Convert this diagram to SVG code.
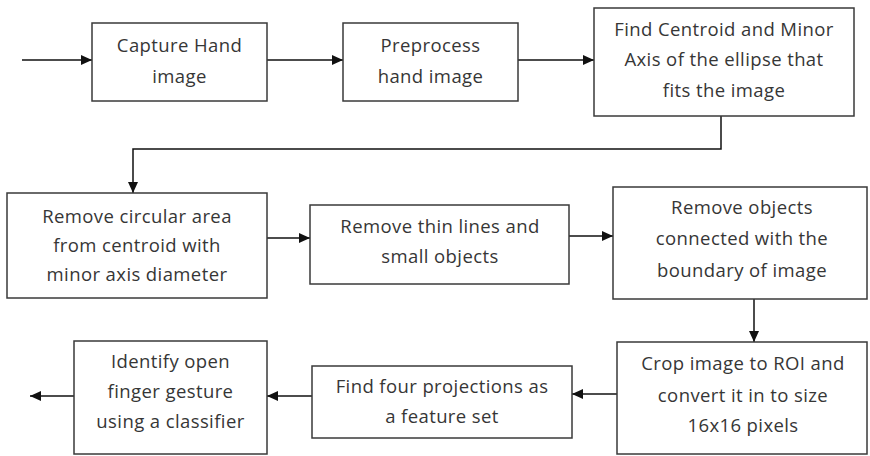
<svg xmlns="http://www.w3.org/2000/svg" width="870" height="456" viewBox="0 0 870 456">
  <style>
    .box { fill: #ffffff; stroke: #3a3a3a; stroke-width: 1.5; }
    .label { font-family: "Open Sans", "Noto Sans", "DejaVu Sans", sans-serif; font-size: 18.5px; fill: #363636; text-anchor: middle; letter-spacing: 0.4px; }
    .wire { fill: none; stroke: #111111; stroke-width: 1.5; }
  </style>
  <defs>
    <marker id="arrow" markerUnits="userSpaceOnUse" markerWidth="12" markerHeight="11" refX="11" refY="5.5" orient="auto">
      <path d="M0,0.5 L11,5.5 L0,10.5 Z" fill="#111111"/>
    </marker>
  </defs>
  <rect width="870" height="456" fill="#ffffff"/>

  <g id="connectors">
    <line class="wire" x1="22" y1="60" x2="92" y2="60" marker-end="url(#arrow)"/>
    <line class="wire" x1="267" y1="60" x2="343" y2="60" marker-end="url(#arrow)"/>
    <line class="wire" x1="518" y1="60" x2="594" y2="60" marker-end="url(#arrow)"/>
    <polyline class="wire" points="721,116 721,149 133,149 133,193" marker-end="url(#arrow)"/>
    <line class="wire" x1="267" y1="238" x2="310" y2="238" marker-end="url(#arrow)"/>
    <line class="wire" x1="569" y1="236" x2="613" y2="236" marker-end="url(#arrow)"/>
    <line class="wire" x1="754" y1="299" x2="754" y2="342" marker-end="url(#arrow)"/>
    <line class="wire" x1="617" y1="394" x2="572" y2="394" marker-end="url(#arrow)"/>
    <line class="wire" x1="312" y1="396" x2="267" y2="396" marker-end="url(#arrow)"/>
    <line class="wire" x1="74" y1="396" x2="30" y2="396" marker-end="url(#arrow)"/>
  </g>

  <g id="capture">
    <rect class="box" x="92" y="23" width="175" height="78"/>
    <text class="label" x="179.5" y="52">Capture Hand</text>
    <text class="label" x="179.5" y="83">image</text>
  </g>

  <g id="preprocess">
    <rect class="box" x="343" y="23" width="175" height="78"/>
    <text class="label" x="430.5" y="52">Preprocess</text>
    <text class="label" x="430.5" y="83">hand image</text>
  </g>

  <g id="centroid">
    <rect class="box" x="594" y="8" width="260" height="108"/>
    <text class="label" x="724" y="36">Find Centroid and Minor</text>
    <text class="label" x="724" y="66">Axis of the ellipse that</text>
    <text class="label" x="724" y="97">fits the image</text>
  </g>

  <g id="remove-circle">
    <rect class="box" x="7" y="193" width="260" height="105"/>
    <text class="label" x="137" y="223">Remove circular area</text>
    <text class="label" x="137" y="252">from centroid with</text>
    <text class="label" x="137" y="281">minor axis diameter</text>
  </g>

  <g id="remove-thin">
    <rect class="box" x="310" y="205" width="259" height="79"/>
    <text class="label" x="440" y="233">Remove thin lines and</text>
    <text class="label" x="440" y="263">small objects</text>
  </g>

  <g id="remove-boundary">
    <rect class="box" x="613" y="187" width="254" height="112"/>
    <text class="label" x="742" y="214">Remove objects</text>
    <text class="label" x="742" y="245">connected with the</text>
    <text class="label" x="742" y="277">boundary of image</text>
  </g>

  <g id="crop">
    <rect class="box" x="617" y="342" width="250" height="112"/>
    <text class="label" x="743" y="370">Crop image to ROI and</text>
    <text class="label" x="743" y="402">convert it in to size</text>
    <text class="label" x="743" y="432">16x16 pixels</text>
  </g>

  <g id="projections">
    <rect class="box" x="312" y="366" width="260" height="72"/>
    <text class="label" x="442" y="393">Find four projections as</text>
    <text class="label" x="442" y="423">a feature set</text>
  </g>

  <g id="classify">
    <rect class="box" x="74" y="341" width="193" height="113"/>
    <text class="label" x="170.5" y="368">Identify open</text>
    <text class="label" x="170.5" y="398">finger gesture</text>
    <text class="label" x="170.5" y="428">using a classifier</text>
  </g>
</svg>
